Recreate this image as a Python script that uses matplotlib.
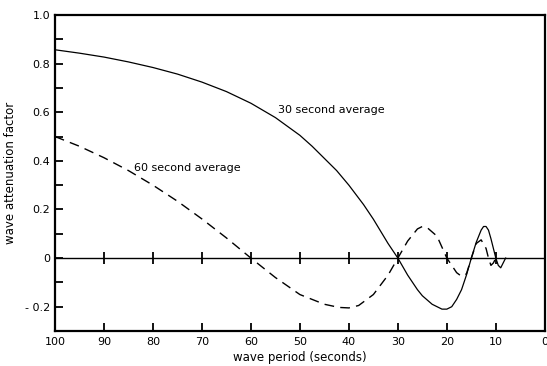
import matplotlib
matplotlib.use("Agg")
import matplotlib.pyplot as plt
import numpy as np

# values
period_30 = [100, 95, 90, 85, 80, 75, 70, 65, 60, 55, 50, 47.5, 45, 42.5, 40, 37, 35, 32,
             30, 28, 26, 25, 23, 21, 20, 19, 18, 17, 16, 15, 14, 13, 12.5, 12, 11.5, 11,
             10.5, 10, 9.5, 9, 8.5, 8]
atten_30 = [0.857, 0.843, 0.827, 0.807, 0.784, 0.757, 0.724, 0.685, 0.637, 0.578, 0.505,
            0.46, 0.41, 0.36, 0.30, 0.22, 0.16, 0.06, 0.0, -0.07, -0.13, -0.155, -0.19,
            -0.21, -0.21, -0.20, -0.17, -0.13, -0.07, 0.0, 0.065, 0.115, 0.13, 0.13,
            0.115, 0.08, 0.04, 0.0, -0.03, -0.04, -0.02, 0.0]

period_60 = [100, 95, 90, 85, 80, 75, 70, 65, 60, 55, 50, 45, 42, 40, 38, 35, 32, 30,
             28, 26, 25, 24, 22, 20, 18, 17, 16, 15, 14, 13, 12, 11.5, 11, 10.5, 10]
atten_60 = [0.50, 0.46, 0.413, 0.36, 0.30, 0.234, 0.161, 0.083, 0.0, -0.08, -0.15, -0.19,
            -0.203, -0.205, -0.195, -0.15, -0.07, 0.0, 0.07, 0.12, 0.13, 0.125, 0.09,
            0.0, -0.06, -0.075, -0.065, 0.0, 0.06, 0.075, 0.04, 0.0, -0.03, -0.02, 0.0]

x_ticks = [100, 90, 80, 70, 60, 50, 40, 30, 20, 10, 0]
y_ticks = [1.0, 0.8, 0.6, 0.4, 0.2, 0, -0.2]
y_labels = ["1.0", "0.8", "0.6", "0.4", "0.2", "0", "- 0.2"]

fig = plt.figure(figsize=(5.47, 3.66), dpi=100)
ax = fig.add_axes([0.1005, 0.0956, 0.8955, 0.8634])

ax.plot(period_30, atten_30, color="black", lw=0.9)
ax.plot(period_60, atten_60, color="black", lw=1.0, linestyle=(0, (7, 4.5)))

# zero line with crossing ticks
ax.axhline(0, color="black", lw=1.0)
ax.plot(x_ticks[1:-1], [0] * len(x_ticks[1:-1]), linestyle="none", marker="|",
        color="black", markersize=8, markeredgewidth=1.3)

ax.set_xlim(100, 0)
ax.set_ylim(-0.3, 1.0)
ax.set_xticks(x_ticks)
ax.set_xticklabels([str(t) for t in x_ticks])
ax.set_yticks(y_ticks)
ax.set_yticklabels(y_labels)
ax.set_yticks(np.arange(-0.3, 1.0, 0.1), minor=True)
ax.tick_params(axis="both", which="both", direction="in", labelsize=8, width=1.3,
               colors="black", top=False, right=False)
ax.tick_params(axis="y", which="major", length=6)
ax.tick_params(axis="y", which="minor", length=6)
ax.tick_params(axis="x", which="major", length=6, pad=4)
for s in ax.spines.values():
    s.set_linewidth(1.6)

ax.set_xlabel("wave period (seconds)", fontsize=8.5, labelpad=3)
ax.set_ylabel("wave attenuation factor", fontsize=8.5, labelpad=6)

ax.text(54.5, 0.61, "30 second average", fontsize=8, va="center", ha="left")
ax.text(83.8, 0.37, "60 second average", fontsize=8, va="center", ha="left")

fig.savefig("out.png", dpi=100)
